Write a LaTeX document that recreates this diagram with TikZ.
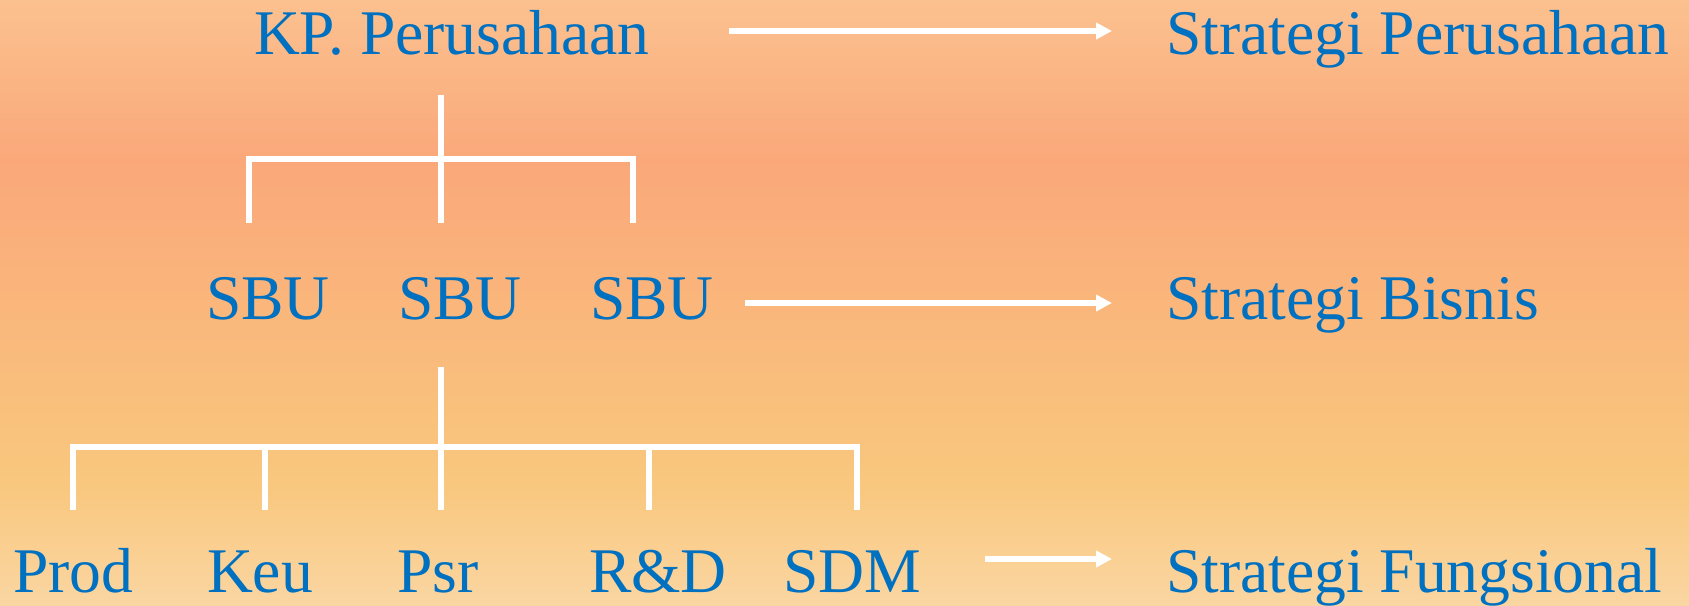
\documentclass[tikz,border=0pt]{standalone}
\usepackage{fontspec}
\setmainfont{Liberation Serif}
\usetikzlibrary{arrows.meta}
\definecolor{txtblue}{RGB}{0,112,192}
\definecolor{bgA}{RGB}{251,193,143}
\definecolor{bgB}{RGB}{250,168,122}
\definecolor{bgC}{RGB}{249,199,125}
\definecolor{bgD}{RGB}{250,214,162}
\tikzset{
  lbl/.style={inner sep=0pt, outer sep=0pt, anchor=base west, text=txtblue,
    font=\fontsize{36.2}{43}\selectfont},
  treeline/.style={draw=white, line width=3pt, line cap=butt, line join=miter},
  arr/.style={draw=white, line width=3pt, -{Triangle[length=9pt,width=9pt]}}
}
\begin{document}
\begin{tikzpicture}[x=0.02cm,y=-0.02cm]
\useasboundingbox (0,0) rectangle (1689,605);
% background gradient
\shade[top color=bgA, bottom color=bgB, draw=none] (-1,-1) rectangle (1690,161);
\shade[top color=bgB, bottom color=bgC, draw=none] (-1,160) rectangle (1690,481);
\shade[top color=bgC, bottom color=bgD, draw=none] (-1,480) rectangle (1690,606);

% labels
\node[lbl] (kp) at (254,54) {KP. Perusahaan};
\node[lbl] (sbu1) at (206,319) {SBU};
\node[lbl] (sbu2) at (398,319) {SBU};
\node[lbl] (sbu3) at (590,319) {SBU};
\node[lbl] (prod) at (13,592) {Prod};
\node[lbl] (keu) at (207,592) {Keu};
\node[lbl] (psr) at (397,592) {Psr};
\node[lbl] (rd) at (589,592) {R\&D};
\node[lbl] (sdm) at (783,592) {SDM};
\node[lbl] (sp) at (1166,54) {Strategi Perusahaan};
\node[lbl] (sb) at (1166,319) {Strategi Bisnis};
\node[lbl] (sf) at (1166,592) {Strategi Fungsional};

% upper tree
\coordinate (t1top) at (441,95);
\coordinate (t1bot) at (441,223);
\coordinate (t1l) at (249,223);
\coordinate (t1lc) at (249,159);
\coordinate (t1rc) at (633,159);
\coordinate (t1r) at (633,223);
\draw[treeline] (t1top) -- (t1bot);
\draw[treeline] (t1l) -- (t1lc) -- (t1rc) -- (t1r);

% lower tree
\coordinate (t2top) at (441,367);
\coordinate (t2bot) at (441,510);
\coordinate (t2l) at (73,510);
\coordinate (t2lc) at (73,447);
\coordinate (t2rc) at (857,447);
\coordinate (t2r) at (857,510);
\coordinate (t2b) at (265,447);
\coordinate (t2be) at (265,510);
\coordinate (t2d) at (649,447);
\coordinate (t2de) at (649,510);
\draw[treeline] (t2top) -- (t2bot);
\draw[treeline] (t2l) -- (t2lc) -- (t2rc) -- (t2r);
\draw[treeline] (t2b) -- (t2be);
\draw[treeline] (t2d) -- (t2de);

% arrows
\coordinate (a1s) at (729,31);
\coordinate (a1e) at (1112,31);
\coordinate (a2s) at (745,303);
\coordinate (a2e) at (1112,303);
\coordinate (a3s) at (985,559);
\coordinate (a3e) at (1112,559);
\draw[arr] (a1s) -- (a1e);
\draw[arr] (a2s) -- (a2e);
\draw[arr] (a3s) -- (a3e);
\end{tikzpicture}
\end{document}
